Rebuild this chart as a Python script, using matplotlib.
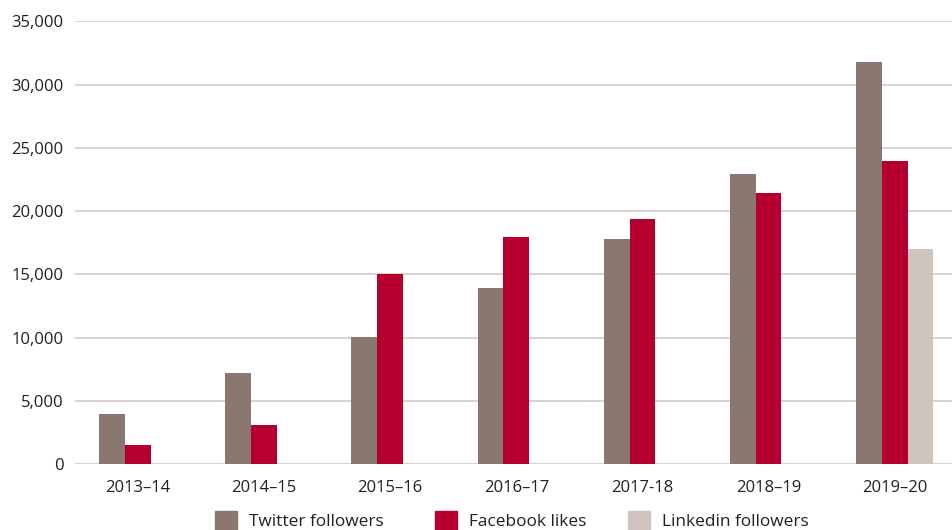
import numpy as np
import matplotlib
matplotlib.use('Agg')
import matplotlib.pyplot as plt
from matplotlib.ticker import FuncFormatter
from matplotlib.patches import Patch

# values
years = ['2013–14', '2014–15', '2015–16', '2016–17', '2017-18', '2018–19', '2019–20']
twitter = [4000, 7200, 10100, 13900, 17800, 22900, 31800]
facebook = [1500, 3100, 15000, 18000, 19400, 21400, 24000]
linkedin = [0, 0, 0, 0, 0, 0, 17000]
series_names = ['Twitter followers', 'Facebook likes', 'Linkedin followers']
series_colors = ['#8A776F', '#B5002F', '#CEC3BF']
legend_x = [215, 435, 628]  # pixel left edge of each legend swatch

plt.rcParams['font.family'] = ['Open Sans', 'DejaVu Sans']
text_color = '#231F20'
grid_color = '#D9CFCC'

fig = plt.figure(figsize=(9.52, 5.30), dpi=100)
ax = fig.add_axes([0.0785, 0.1238, 0.9215, 0.836])

x = np.arange(len(years))
w = 0.2045
for i, (vals, name, col) in enumerate(zip([twitter, facebook, linkedin], series_names, series_colors)):
    ax.bar(x + (i - 1) * w, vals, width=w, color=col, label=name, zorder=3)

ax.set_xlim(-0.5, 6.454)
ax.set_ylim(0, 35000)
ax.set_yticks(np.arange(0, 35001, 5000))
ax.yaxis.set_major_formatter(FuncFormatter(lambda v, p: f'{int(v):,}'))
ax.set_xticks(x)
ax.set_xticklabels(years)

ax.grid(axis='y', color=grid_color, linewidth=1.3, zorder=0)
ax.grid(axis='x', visible=False)
for s in ax.spines.values():
    s.set_visible(False)
ax.tick_params(axis='both', length=0, labelsize=12, colors=text_color)
ax.tick_params(axis='y', pad=8)
ax.tick_params(axis='x', pad=11)

# legend entries sit at the bottom edge, partly clipped as in the source
for name, col, lx in zip(series_names, series_colors, legend_x):
    leg = fig.legend(handles=[Patch(color=col)], labels=[name],
                     loc='upper left', bbox_to_anchor=(lx / 952, 1 - 511 / 530),
                     frameon=False, fontsize=12.4, handlelength=1.3, handleheight=1.3,
                     handletextpad=0.67, borderaxespad=0, borderpad=0)
    for t in leg.get_texts():
        t.set_color(text_color)

fig.savefig('out.png', dpi=100)
